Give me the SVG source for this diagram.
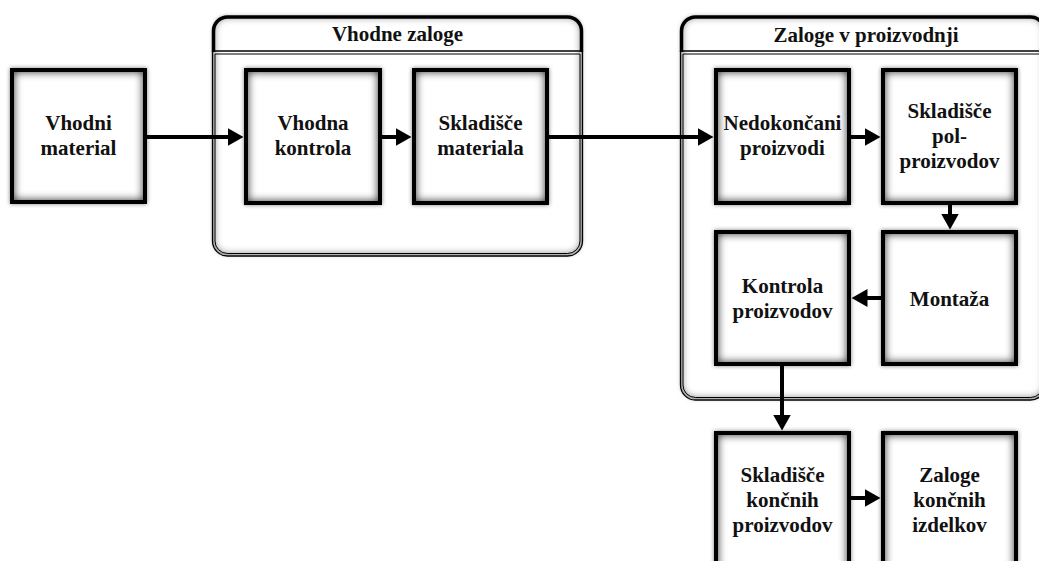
<svg xmlns="http://www.w3.org/2000/svg" width="1039" height="561" viewBox="0 0 1039 561">
  <defs>
    <style>
      .edge { fill: none; stroke: #000; stroke-width: 4; }
      .lbl { font-family: "Liberation Serif", "Times New Roman", serif; font-weight: bold; font-size: 21px; fill: #111; text-anchor: middle; }
      .head { fill: none; stroke: #000; stroke-width: 3.5; }
      .thin { fill: none; stroke: #000; stroke-width: 1.3; }
      .thin2 { fill: none; stroke: #000; stroke-width: 1; }
      .flow { fill: none; stroke: #000; stroke-width: 4; marker-end: url(#arrow); }
    </style>
    <!-- soft grey inner shading for the boxes -->
    <filter id="soft" x="-15%" y="-15%" width="130%" height="130%" color-interpolation-filters="sRGB">
      <feFlood flood-color="#333333" result="c"/>
      <feComposite in="c" in2="SourceAlpha" operator="out" result="outside"/>
      <feGaussianBlur in="outside" stdDeviation="4" result="blur"/>
      <feComposite in="blur" in2="SourceAlpha" operator="in" result="inner"/>
      <feMerge>
        <feMergeNode in="SourceGraphic"/>
        <feMergeNode in="inner"/>
      </feMerge>
    </filter>
    <!-- light grey halo outside the boxes -->
    <filter id="halo" x="-10%" y="-10%" width="120%" height="120%">
      <feGaussianBlur in="SourceAlpha" stdDeviation="2.2"/>
      <feColorMatrix type="matrix" values="0 0 0 0 0  0 0 0 0 0  0 0 0 0 0  0 0 0 0.5 0"/>
    </filter>
    <filter id="softc" x="-5%" y="-5%" width="110%" height="110%" color-interpolation-filters="sRGB">
      <feGaussianBlur in="SourceAlpha" stdDeviation="2" result="halo"/>
      <feColorMatrix in="halo" type="matrix" values="0 0 0 0 0  0 0 0 0 0  0 0 0 0 0  0 0 0 0.35 0" result="haloC"/>
      <feFlood flood-color="#555555" result="c"/>
      <feComposite in="c" in2="SourceAlpha" operator="out" result="outside"/>
      <feGaussianBlur in="outside" stdDeviation="4" result="blur"/>
      <feComposite in="blur" in2="SourceAlpha" operator="in" result="inner"/>
      <feMerge>
        <feMergeNode in="haloC"/>
        <feMergeNode in="SourceGraphic"/>
        <feMergeNode in="inner"/>
      </feMerge>
    </filter>
    <marker id="arrow" markerUnits="userSpaceOnUse" viewBox="0 0 16 18" markerWidth="16" markerHeight="18" refX="0.5" refY="9" orient="auto">
      <path d="M0,0 L16,9 L0,18 Z" fill="#000"/>
    </marker>
  </defs>

  <rect width="1039" height="561" fill="#ffffff"/>

  <!-- container: Vhodne zaloge -->
  <g id="vhodne-zaloge">
    <path fill="#ffffff" filter="url(#softc)" d="M213,30 A14,14 0 0 1 227,16 H568 A14,14 0 0 1 582,30 V241 A14,14 0 0 1 568,255 H227 A14,14 0 0 1 213,241 Z"/>
    <path class="head" d="M213.5,52 V31 A14,14 0 0 1 227.5,17 H567.5 A14,14 0 0 1 581.5,31 V52"/>
    <path class="thin" d="M212.5,51 V241 A15,15 0 0 0 227.5,256 H567.5 A15,15 0 0 0 582.5,241 V51"/>
    <path class="thin2" d="M215,54 V241 A12.5,12.5 0 0 0 227.5,253.5 H567.5 A12.5,12.5 0 0 0 580,241 V54"/>
    <line class="thin" x1="212" y1="51" x2="583" y2="51"/>
    <line class="thin2" x1="215" y1="54" x2="580" y2="54"/>
    <text class="lbl" x="397.5" y="41">Vhodne zaloge</text>
  </g>

  <!-- container: Zaloge v proizvodnji -->
  <g id="zaloge-v-proizvodnji">
    <path fill="#ffffff" filter="url(#softc)" d="M681,30 A14,14 0 0 1 695,16 H1031 A14,14 0 0 1 1045,30 V385 A14,14 0 0 1 1031,399 H695 A14,14 0 0 1 681,385 Z"/>
    <path class="head" d="M681.5,52 V31 A14,14 0 0 1 695.5,17 H1030.5 A14,14 0 0 1 1044.5,31 V52"/>
    <path class="thin" d="M680.5,51 V385 A15,15 0 0 0 695.5,400 H1030.5 A15,15 0 0 0 1045.5,385 V51"/>
    <path class="thin2" d="M683,54 V385 A12.5,12.5 0 0 0 695.5,397.5 H1030.5 A12.5,12.5 0 0 0 1043,385 V54"/>
    <line class="thin" x1="680" y1="51" x2="1046" y2="51"/>
    <line class="thin2" x1="683" y1="54" x2="1043" y2="54"/>
    <text class="lbl" x="866" y="41.5">Zaloge v proizvodnji</text>
  </g>

  <g id="vhodni-material">
    <rect filter="url(#halo)" x="10" y="68" width="137" height="136"/>
    <rect fill="#ffffff" filter="url(#soft)" x="14" y="72" width="129" height="128"/>
    <rect class="edge" x="12" y="70" width="133" height="132"/>
    <text class="lbl" x="78.5" y="130">Vhodni</text>
    <text class="lbl" x="78.5" y="155">material</text>
  </g>

  <g id="vhodna-kontrola">
    <rect filter="url(#halo)" x="244" y="68" width="138" height="137"/>
    <rect fill="#ffffff" filter="url(#soft)" x="248" y="72" width="130" height="129"/>
    <rect class="edge" x="246" y="70" width="134" height="133"/>
    <text class="lbl" x="313" y="130">Vhodna</text>
    <text class="lbl" x="313" y="155">kontrola</text>
  </g>

  <g id="skladisce-materiala">
    <rect filter="url(#halo)" x="412" y="68" width="137" height="137"/>
    <rect fill="#ffffff" filter="url(#soft)" x="416" y="72" width="129" height="129"/>
    <rect class="edge" x="414" y="70" width="133" height="133"/>
    <text class="lbl" x="480.5" y="130">Skladišče</text>
    <text class="lbl" x="480.5" y="155">materiala</text>
  </g>

  <g id="nedokoncani-proizvodi">
    <rect filter="url(#halo)" x="714" y="68" width="137" height="137"/>
    <rect fill="#ffffff" filter="url(#soft)" x="718" y="72" width="129" height="129"/>
    <rect class="edge" x="716" y="70" width="133" height="133"/>
    <text class="lbl" x="782.5" y="130">Nedokončani</text>
    <text class="lbl" x="782.5" y="155">proizvodi</text>
  </g>

  <g id="skladisce-polproizvodov">
    <rect filter="url(#halo)" x="881" y="68" width="137" height="137"/>
    <rect fill="#ffffff" filter="url(#soft)" x="885" y="72" width="129" height="129"/>
    <rect class="edge" x="883" y="70" width="133" height="133"/>
    <text class="lbl" x="949.5" y="118">Skladišče</text>
    <text class="lbl" x="949.5" y="143">pol-</text>
    <text class="lbl" x="949.5" y="168">proizvodov</text>
  </g>

  <g id="kontrola-proizvodov">
    <rect filter="url(#halo)" x="714" y="230" width="137" height="136"/>
    <rect fill="#ffffff" filter="url(#soft)" x="718" y="234" width="129" height="128"/>
    <rect class="edge" x="716" y="232" width="133" height="132"/>
    <text class="lbl" x="782.5" y="293">Kontrola</text>
    <text class="lbl" x="782.5" y="318">proizvodov</text>
  </g>

  <g id="montaza">
    <rect filter="url(#halo)" x="881" y="230" width="137" height="136"/>
    <rect fill="#ffffff" filter="url(#soft)" x="885" y="234" width="129" height="128"/>
    <rect class="edge" x="883" y="232" width="133" height="132"/>
    <text class="lbl" x="949.5" y="306">Montaža</text>
  </g>

  <g id="skladisce-koncnih-proizvodov">
    <rect filter="url(#halo)" x="714" y="431" width="137" height="144"/>
    <rect fill="#ffffff" filter="url(#soft)" x="718" y="435" width="129" height="136"/>
    <rect class="edge" x="716" y="433" width="133" height="140"/>
    <text class="lbl" x="782.5" y="482">Skladišče</text>
    <text class="lbl" x="782.5" y="507">končnih</text>
    <text class="lbl" x="782.5" y="532">proizvodov</text>
  </g>

  <g id="zaloge-koncnih-izdelkov">
    <rect filter="url(#halo)" x="881" y="431" width="137" height="144"/>
    <rect fill="#ffffff" filter="url(#soft)" x="885" y="435" width="129" height="136"/>
    <rect class="edge" x="883" y="433" width="133" height="140"/>
    <text class="lbl" x="949.5" y="482">Zaloge</text>
    <text class="lbl" x="949.5" y="507">končnih</text>
    <text class="lbl" x="949.5" y="532">izdelkov</text>
  </g>

  <!-- connectors -->
  <g id="connectors">
    <path class="flow" d="M147,137 H228"/>
    <path class="flow" d="M382,137 H396"/>
    <path class="flow" d="M549,137 H698"/>
    <path class="flow" d="M851,137 H865"/>
    <path class="flow" d="M950,205 V214"/>
    <path class="flow" d="M881,298 H867"/>
    <path class="flow" d="M782,366 V415"/>
    <path class="flow" d="M851,498 H865"/>
  </g>
</svg>
